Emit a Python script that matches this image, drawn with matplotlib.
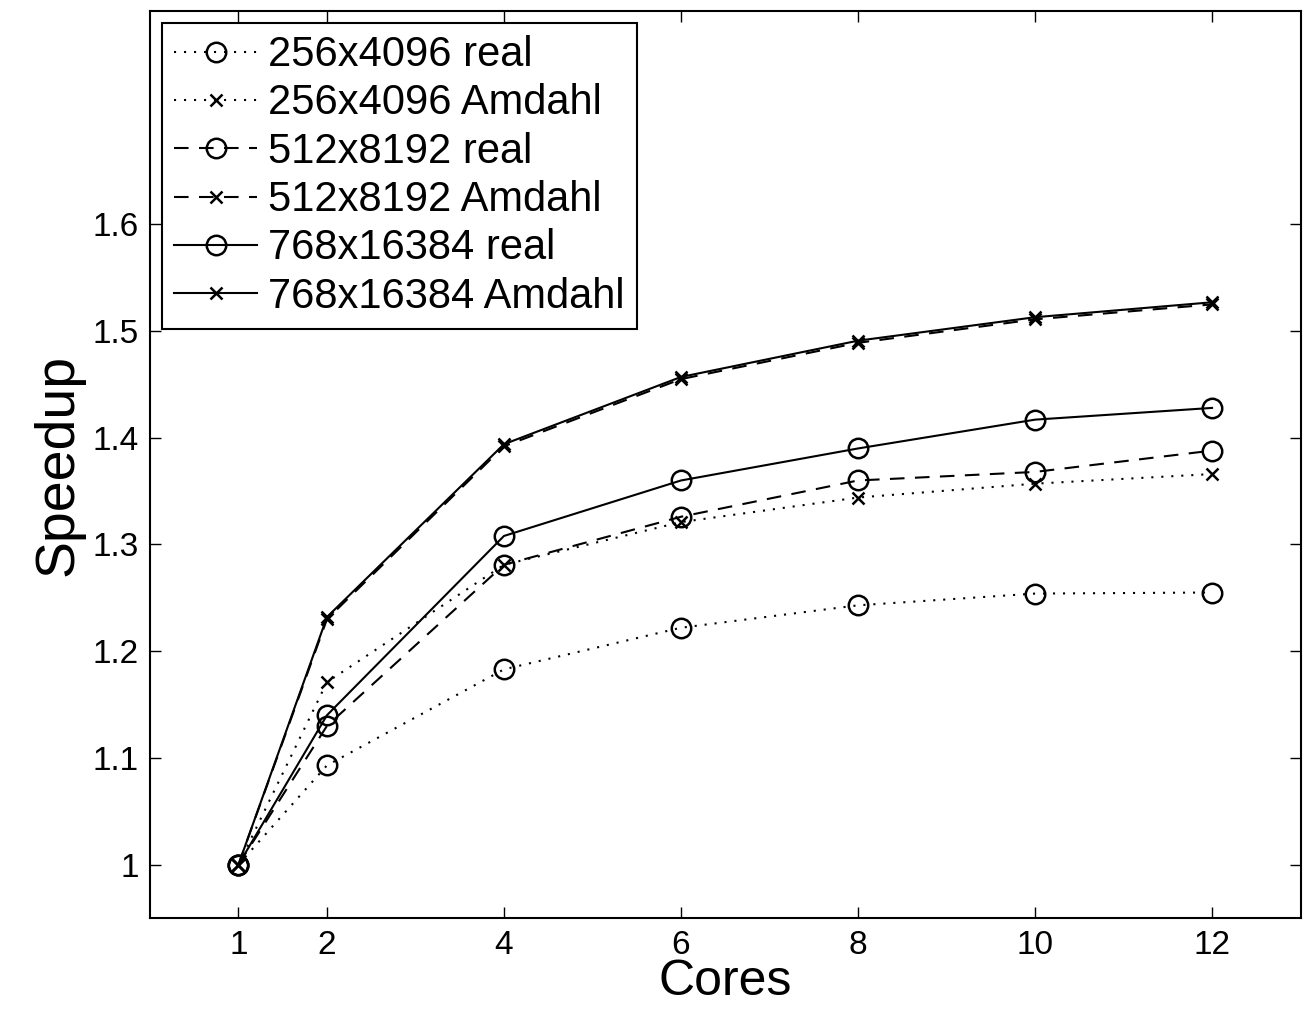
import matplotlib
matplotlib.use("Agg")
import matplotlib.pyplot as plt

plt.rcParams['font.family'] = ['Liberation Sans', 'DejaVu Sans']

# datos
cores = [1, 2, 4, 6, 8, 10, 12]
real_256 = [1.0, 1.093, 1.183, 1.222, 1.243, 1.254, 1.255]
amdahl_256 = [1.0, 1.171, 1.281, 1.321, 1.344, 1.357, 1.366]
real_512 = [1.0, 1.130, 1.281, 1.326, 1.360, 1.368, 1.388]
amdahl_512 = [1.0, 1.230, 1.392, 1.455, 1.489, 1.511, 1.525]
real_768 = [1.0, 1.140, 1.308, 1.360, 1.390, 1.417, 1.428]
amdahl_768 = [1.0, 1.232, 1.394, 1.457, 1.491, 1.513, 1.527]

etiquetas = ["256x4096 real", "256x4096 Amdahl", "512x8192 real",
             "512x8192 Amdahl", "768x16384 real", "768x16384 Amdahl"]
xticks = [1, 2, 4, 6, 8, 10, 12]
yticks = [1, 1.1, 1.2, 1.3, 1.4, 1.5, 1.6]
yticklabels = ["1", "1.1", "1.2", "1.3", "1.4", "1.5", "1.6"]

punteado = (0, (1, 3.8))
rayado = (0, (7, 5))

fig = plt.figure(figsize=(13.05, 10.16), dpi=100)
ax = fig.add_axes([0.1149, 0.0965, 0.9966 - 0.1149, 0.9892 - 0.0965])

series = [
    (real_256, punteado, 'o'),
    (amdahl_256, punteado, 'x'),
    (real_512, rayado, 'o'),
    (amdahl_512, rayado, 'x'),
    (real_768, '-', 'o'),
    (amdahl_768, '-', 'x'),
]
for (valores, estilo, marca), nombre in zip(series, etiquetas):
    ms = 14 if marca == 'o' else 9
    ax.plot(cores, valores, linestyle=estilo, marker=marca, color='black',
            linewidth=1.5, markersize=ms, markerfacecolor='none',
            markeredgewidth=1.8, label=nombre)

ax.set_xlim(0, 13)
ax.set_ylim(0.95, 1.8)
ax.set_xticks(xticks)
ax.set_yticks(yticks)
ax.set_yticklabels(yticklabels)
ax.tick_params(direction='in', length=8, width=1, top=True, right=True,
               labelsize=24)
ax.tick_params(axis='x', pad=9)
ax.tick_params(axis='y', pad=8)
for s in ax.spines.values():
    s.set_linewidth(1.5)

ax.set_xlabel("Cores", fontsize=36, labelpad=-2)
ax.set_ylabel("Speedup", fontsize=40, labelpad=6)

leg = ax.legend(loc='upper left', fontsize=30, frameon=True, fancybox=False,
                framealpha=1, edgecolor='black', borderaxespad=0.28,
                handlelength=2.0, handletextpad=0.25, labelspacing=0.2,
                borderpad=0.3, numpoints=1)
leg.get_frame().set_linewidth(1.5)

plt.savefig("out.png", dpi=100)
